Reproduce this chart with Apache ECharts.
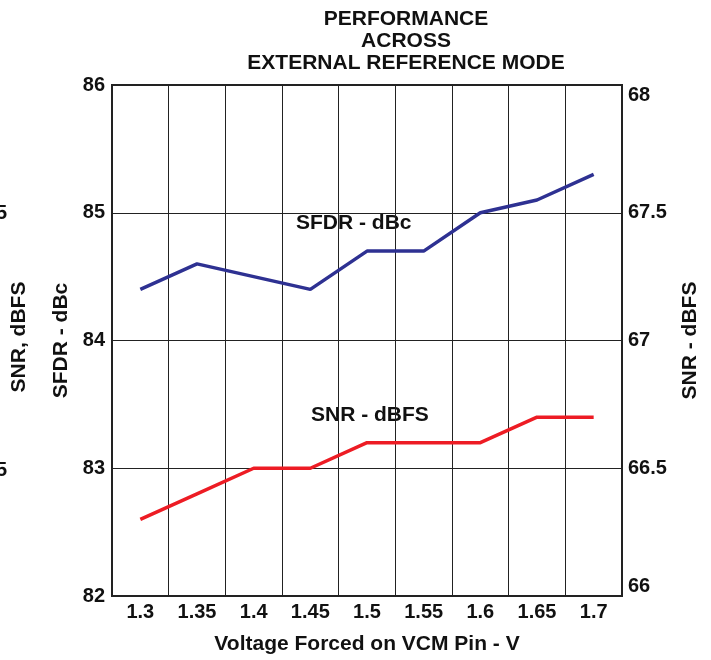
<!DOCTYPE html>
<html>
<head>
<meta charset="utf-8">
<script src="https://cdn.jsdelivr.net/npm/echarts@6/dist/echarts.min.js"></script>
<style>
  html, body { margin: 0; padding: 0; background: #fff; }
  #chart { width: 711px; height: 660px; }
</style>
</head>
<body>
<div id="chart"></div>
<script>
// data
const voltages = ['1.3', '1.35', '1.4', '1.45', '1.5', '1.55', '1.6', '1.65', '1.7']
const sfdr = [84.4, 84.6, 84.5, 84.4, 84.7, 84.7, 85.0, 85.1, 85.3]
const snr = [66.3, 66.4, 66.5, 66.5, 66.6, 66.6, 66.6, 66.7, 66.7]

const font = '"Liberation Sans", Arial, sans-serif'
const ink = '#111'
const chart = echarts.init(document.getElementById('chart'))

const tickStyle = {
  color: ink,
  fontFamily: font,
  fontWeight: 'bold',
  fontSize: 20
}
const nameStyle = {
  color: ink,
  fontFamily: font,
  fontWeight: 'bold',
  fontSize: 21
}

const option = {
  animation: false,
  title: {
    text: 'PERFORMANCE\nACROSS\nEXTERNAL REFERENCE MODE',
    left: 401,
    top: 3,
    textAlign: 'center',
    textStyle: {
      color: ink,
      fontFamily: font,
      fontWeight: 'bold',
      fontSize: 21,
      lineHeight: 22
    }
  },
  grid: {
    left: 112,
    right: 89,
    top: 85,
    bottom: 64,
    outerBoundsMode: 'none',
    show: true,
    borderColor: '#222',
    borderWidth: 2,
    backgroundColor: 'transparent'
  },
  xAxis: {
    type: 'category',
    data: voltages,
    boundaryGap: true,
    name: 'Voltage Forced on VCM Pin - V',
    nameLocation: 'middle',
    nameGap: 38,
    nameTextStyle: nameStyle,
    axisLine: { show: true, lineStyle: { color: '#222', width: 2 } },
    axisTick: { show: false },
    axisLabel: Object.assign({ margin: 6 }, tickStyle),
    splitLine: { show: true, lineStyle: { color: '#222', width: 1 } }
  },
  yAxis: [
    {
      type: 'value',
      min: 82,
      max: 86,
      interval: 1,
      name: 'SFDR - dBc',
      nameLocation: 'middle',
      nameRotate: 90,
      nameGap: 38,
      nameTextStyle: nameStyle,
      axisLine: { show: true, lineStyle: { color: '#222', width: 2 } },
      axisTick: { show: false },
      axisLabel: Object.assign({ margin: 7 }, tickStyle),
      splitLine: { show: true, lineStyle: { color: '#222', width: 1 } }
    },
    {
      type: 'value',
      min: 66,
      max: 68,
      interval: 0.5,
      position: 'right',
      name: 'SNR - dBFS',
      nameLocation: 'middle',
      nameRotate: 90,
      nameGap: 58,
      nameTextStyle: nameStyle,
      axisLine: { show: true, lineStyle: { color: '#222', width: 2 } },
      axisTick: { show: false },
      axisLabel: Object.assign({
        margin: 6,
        verticalAlignMaxLabel: 'top',
        verticalAlignMinLabel: 'bottom'
      }, tickStyle),
      splitLine: { show: false }
    }
  ],
  series: [
    {
      name: 'SFDR - dBc',
      type: 'line',
      yAxisIndex: 0,
      data: sfdr,
      symbol: 'none',
      lineStyle: { color: '#2e3192', width: 3.5 },
      z: 5
    },
    {
      name: 'SNR - dBFS',
      type: 'line',
      yAxisIndex: 1,
      data: snr,
      symbol: 'none',
      lineStyle: { color: '#ed1c24', width: 3.5 },
      z: 5
    }
  ],
  graphic: [
    { type: 'text', left: 296, top: 213, style: { text: 'SFDR - dBc', fill: ink, font: 'bold 21px ' + font } },
    { type: 'text', left: 311, top: 405, style: { text: 'SNR - dBFS', fill: ink, font: 'bold 21px ' + font } },
    // cut-off pieces of another chart at the left edge
    { type: 'text', x: 19, y: 337, rotation: Math.PI / 2, style: { text: 'SNR, dBFS', fill: ink, font: 'bold 21px ' + font, align: 'center', verticalAlign: 'middle' } },
    { type: 'text', x: 7, y: 213, style: { text: '67.5', fill: ink, font: 'bold 20px ' + font, align: 'right', verticalAlign: 'middle' } },
    { type: 'text', x: 7, y: 470, style: { text: '66.5', fill: ink, font: 'bold 20px ' + font, align: 'right', verticalAlign: 'middle' } }
  ]
}

chart.setOption(option)
</script>
</body>
</html>
